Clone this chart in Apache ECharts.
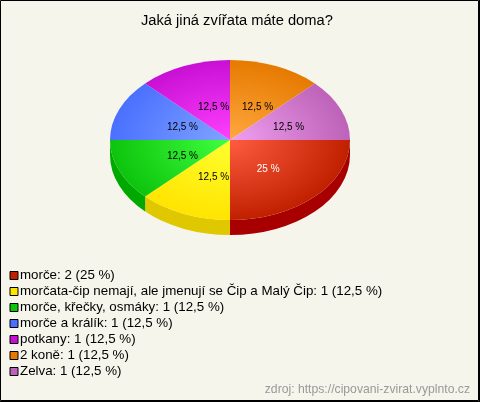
<!DOCTYPE html>
<html><head><meta charset="utf-8">
<style>html,body{margin:0;padding:0;background:#f5f5ec}#c{width:480px;height:402px}</style>
<script src="https://cdn.jsdelivr.net/npm/echarts@6/dist/echarts.min.js"></script>
</head><body><div id="c"></div>
<script>
const titleText = 'Jaká jiná zvířata máte doma?';
const sourceText = 'zdroj: https://cipovani-zvirat.vyplnto.cz';
const categories = ['morče','morčata-čip nemají, ale jmenují se Čip a Malý Čip','morče, křečky, osmáky','morče a králík','potkany','2 koně','Zelva'];
const counts = [2,1,1,1,1,1,1];
const percentLabels = ['25 %','12,5 %','12,5 %','12,5 %','12,5 %','12,5 %','12,5 %'];
const rimColors = ['#c02000','#ffe400','#0cc40c','#4a70ff','#c810d4','#e67a00','#bd62b8'];
const hubColors = ['#ff5c40','#ffff30','#40ff40','#80a4ff','#ff40ff','#ffa840','#f0a0f0'];
const sideColors = ['#a80000','#e0c800','#00a800','#2048c0','#900090','#b05000','#905090'];
const labelColors = ['#fff','#000','#000','#000','#000','#000','#000'];

const cx=230, cy=140, rx=120, ry=80, depth=15;
const total = counts.reduce((a,b)=>a+b,0);
let acc = 0;
const spans = counts.map(v=>{const s=acc/total; acc+=v; return [s,acc/total];});
const theta = f => f*2*Math.PI;

function renderSlice(idx){
  return function(){
    const [f0,f1]=spans[idx];
    const a0=theta(f0), a1=theta(f1);
    const children=[];
    const s0=Math.max(a0,0), s1=Math.min(a1,Math.PI);
    if(s1>s0){
      const x0=cx+rx*Math.cos(s0), y0=cy+ry*Math.sin(s0), x1=cx+rx*Math.cos(s1), y1=cy+ry*Math.sin(s1);
      children.push({type:'path',z2:0,shape:{pathData:`M${x0} ${y0}A${rx} ${ry} 0 0 1 ${x1} ${y1}L${x1} ${y1+depth}A${rx} ${ry} 0 0 0 ${x0} ${y0+depth}Z`},style:{fill:sideColors[idx]}});
    }
    const large=(a1-a0)>Math.PI?1:0;
    const ax=cx+rx*Math.cos(a0), ay=cy+rx*Math.sin(a0), bx=cx+rx*Math.cos(a1), by=cy+rx*Math.sin(a1);
    children.push({type:'path',z2:1,originX:cx,originY:cy,scaleY:ry/rx,shape:{pathData:`M${cx} ${cy}L${ax} ${ay}A${rx} ${rx} 0 ${large} 1 ${bx} ${by}Z`},
      style:{fill:{type:'radial',x:cx,y:cy,r:rx,global:true,colorStops:[{offset:0,color:hubColors[idx]},{offset:1,color:rimColors[idx]}]},stroke:null}});
    const mid=(a0+a1)/2, share=f1-f0;
    const lr=63-44*share;
    children.push({type:'text',z2:2,style:{x:220+lr*Math.cos(mid),y:cy+2+38*Math.sin(mid),text:percentLabels[idx],fill:labelColors[idx],font:'10px "Liberation Sans"',textAlign:'left',textVerticalAlign:'middle'}});
    return {type:'group',children};
  };
}
const names = categories.map((c,i)=>`${c}: ${counts[i]} (${percentLabels[i]})`);
const chart = echarts.init(document.getElementById('c'),null,{renderer:'canvas'});
chart.setOption({
  animation:false,
  backgroundColor:'#f5f5ec',
  title:{text:titleText,left:141,top:13,padding:0,textStyle:{fontFamily:'Liberation Sans',fontSize:14.7,fontWeight:'normal',color:'#000'}},
  legend:{orient:'vertical',left:9.5,top:269,itemWidth:8,itemHeight:8,itemGap:3,icon:'rect',padding:0,
    selectedMode:false,data:names,
    itemStyle:{borderColor:'#000',borderWidth:1},
    textStyle:{fontFamily:'Liberation Sans',fontSize:13.33,color:'#000',padding:[0,0,0,-3],lineHeight:13}},
  graphic:[
    {type:'rect',z:100,silent:true,shape:{x:.5,y:.5,width:478,height:400},style:{fill:null,stroke:'#000',lineWidth:1}},
    {type:'rect',z:100,silent:true,shape:{x:479,y:0,width:1,height:402},style:{fill:'#000'}},
    {type:'rect',z:100,silent:true,shape:{x:0,y:401,width:480,height:1},style:{fill:'#000'}},
    {type:'text',z:100,right:10,top:384,style:{text:sourceText,fill:'#999',font:'12.2px "Liberation Sans"'}}
  ],
  series:names.map((n,i)=>({type:'custom',name:n,coordinateSystem:'none',silent:true,
    itemStyle:{color:rimColors[i]},
    data:[counts[i]],renderItem:renderSlice(i)}))
});
</script></body></html>
